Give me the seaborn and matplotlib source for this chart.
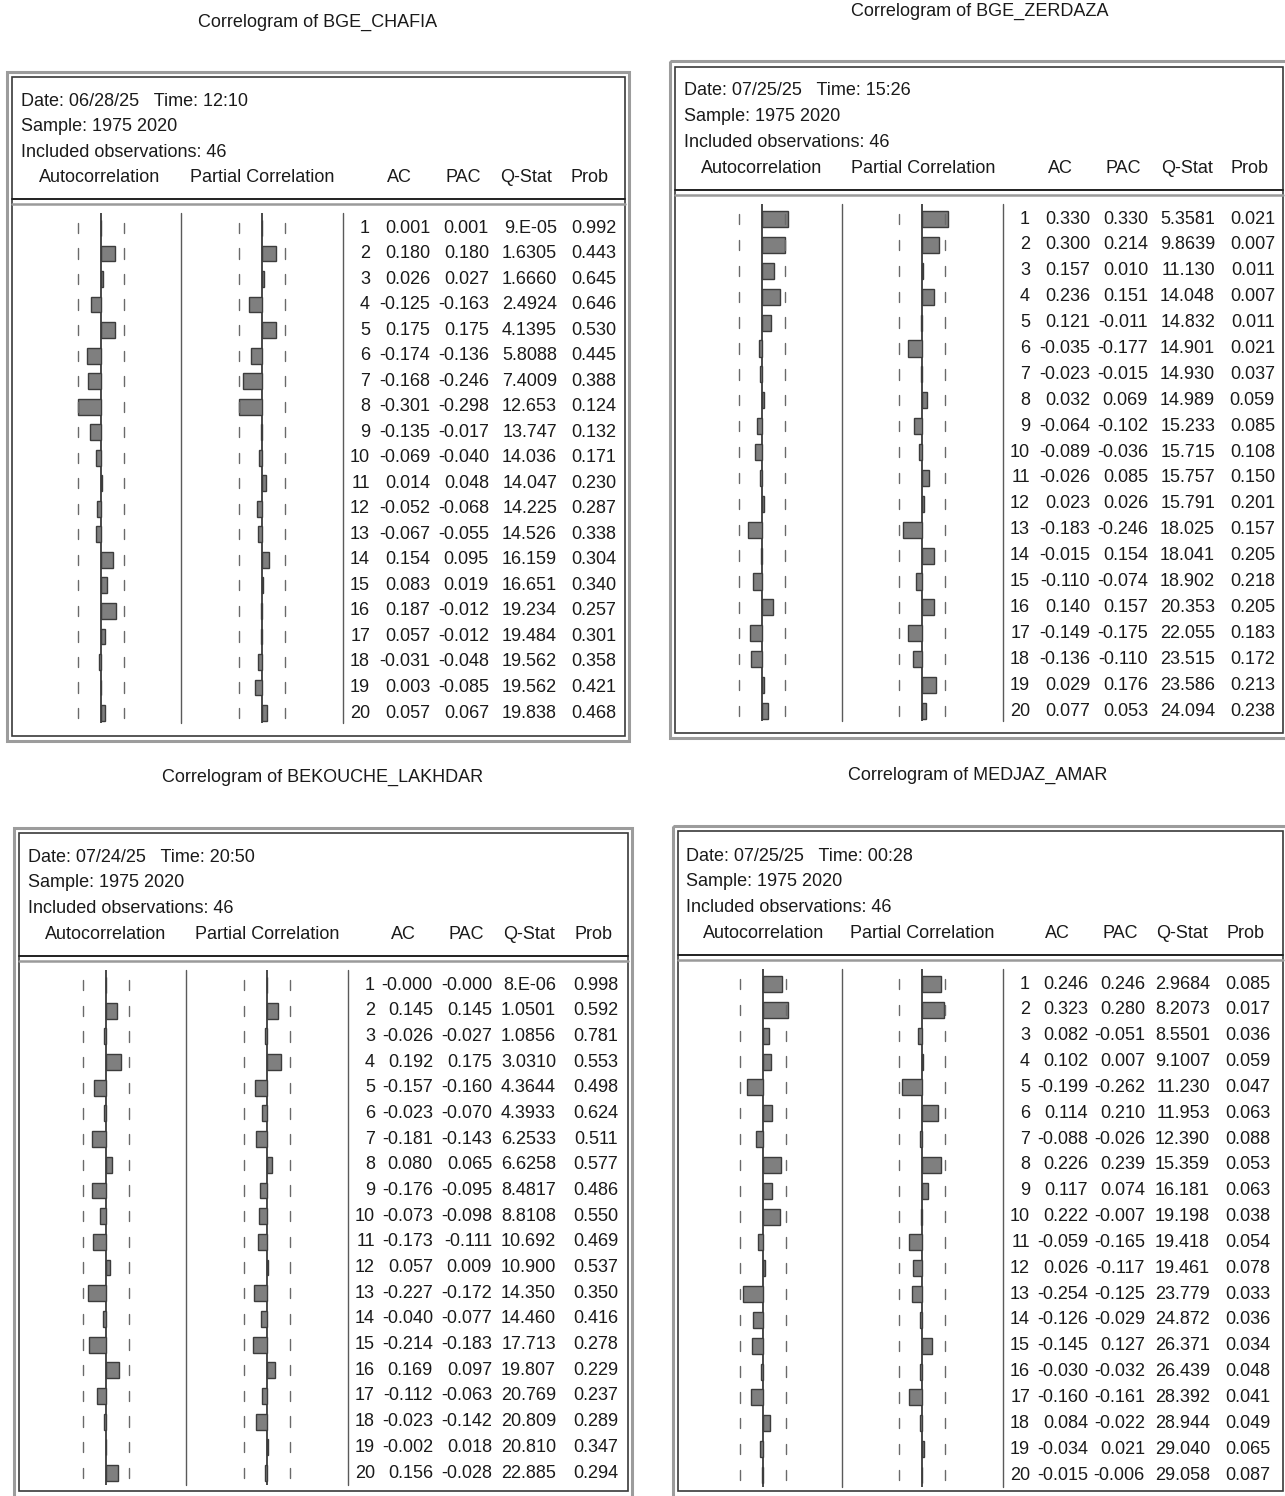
import matplotlib
matplotlib.use("Agg")
import matplotlib.pyplot as plt
from matplotlib.patches import Rectangle
import numpy as np
import pandas as pd
import seaborn as sns

sns.set_theme(style="white")
plt.rcParams['font.family'] = ['Liberation Sans', 'DejaVu Sans']

# ---------------- data ----------------
lags = list(range(1, 21))

names = ["BGE_CHAFIA", "BGE_ZERDAZA", "BEKOUCHE_LAKHDAR", "MEDJAZ_AMAR"]
dates = ["Date: 06/28/25   Time: 12:10", "Date: 07/25/25   Time: 15:26",
         "Date: 07/24/25   Time: 20:50", "Date: 07/25/25   Time: 00:28"]
sample_txt = "Sample: 1975 2020"
obs_txt = "Included observations: 46"
n_obs = 46

ac_chafia = [0.001, 0.180, 0.026, -0.125, 0.175, -0.174, -0.168, -0.301, -0.135, -0.069,
             0.014, -0.052, -0.067, 0.154, 0.083, 0.187, 0.057, -0.031, 0.003, 0.057]
pac_chafia = [0.001, 0.180, 0.027, -0.163, 0.175, -0.136, -0.246, -0.298, -0.017, -0.040,
              0.048, -0.068, -0.055, 0.095, 0.019, -0.012, -0.012, -0.048, -0.085, 0.067]
q_chafia = ["9.E-05", "1.6305", "1.6660", "2.4924", "4.1395", "5.8088", "7.4009", "12.653",
            "13.747", "14.036", "14.047", "14.225", "14.526", "16.159", "16.651", "19.234",
            "19.484", "19.562", "19.562", "19.838"]
p_chafia = [0.992, 0.443, 0.645, 0.646, 0.530, 0.445, 0.388, 0.124, 0.132, 0.171,
            0.230, 0.287, 0.338, 0.304, 0.340, 0.257, 0.301, 0.358, 0.421, 0.468]

ac_zerdaza = [0.330, 0.300, 0.157, 0.236, 0.121, -0.035, -0.023, 0.032, -0.064, -0.089,
              -0.026, 0.023, -0.183, -0.015, -0.110, 0.140, -0.149, -0.136, 0.029, 0.077]
pac_zerdaza = [0.330, 0.214, 0.010, 0.151, -0.011, -0.177, -0.015, 0.069, -0.102, -0.036,
               0.085, 0.026, -0.246, 0.154, -0.074, 0.157, -0.175, -0.110, 0.176, 0.053]
q_zerdaza = ["5.3581", "9.8639", "11.130", "14.048", "14.832", "14.901", "14.930", "14.989",
             "15.233", "15.715", "15.757", "15.791", "18.025", "18.041", "18.902", "20.353",
             "22.055", "23.515", "23.586", "24.094"]
p_zerdaza = [0.021, 0.007, 0.011, 0.007, 0.011, 0.021, 0.037, 0.059, 0.085, 0.108,
             0.150, 0.201, 0.157, 0.205, 0.218, 0.205, 0.183, 0.172, 0.213, 0.238]

ac_bekouche = [-0.000, 0.145, -0.026, 0.192, -0.157, -0.023, -0.181, 0.080, -0.176, -0.073,
               -0.173, 0.057, -0.227, -0.040, -0.214, 0.169, -0.112, -0.023, -0.002, 0.156]
pac_bekouche = [-0.000, 0.145, -0.027, 0.175, -0.160, -0.070, -0.143, 0.065, -0.095, -0.098,
                -0.111, 0.009, -0.172, -0.077, -0.183, 0.097, -0.063, -0.142, 0.018, -0.028]
q_bekouche = ["8.E-06", "1.0501", "1.0856", "3.0310", "4.3644", "4.3933", "6.2533", "6.6258",
              "8.4817", "8.8108", "10.692", "10.900", "14.350", "14.460", "17.713", "19.807",
              "20.769", "20.809", "20.810", "22.885"]
p_bekouche = [0.998, 0.592, 0.781, 0.553, 0.498, 0.624, 0.511, 0.577, 0.486, 0.550,
              0.469, 0.537, 0.350, 0.416, 0.278, 0.229, 0.237, 0.289, 0.347, 0.294]

ac_medjaz = [0.246, 0.323, 0.082, 0.102, -0.199, 0.114, -0.088, 0.226, 0.117, 0.222,
             -0.059, 0.026, -0.254, -0.126, -0.145, -0.030, -0.160, 0.084, -0.034, -0.015]
pac_medjaz = [0.246, 0.280, -0.051, 0.007, -0.262, 0.210, -0.026, 0.239, 0.074, -0.007,
              -0.165, -0.117, -0.125, -0.029, 0.127, -0.032, -0.161, -0.022, 0.021, -0.006]
q_medjaz = ["2.9684", "8.2073", "8.5501", "9.1007", "11.230", "11.953", "12.390", "15.359",
            "16.181", "19.198", "19.418", "19.461", "23.779", "24.872", "26.371", "26.439",
            "28.392", "28.944", "29.040", "29.058"]
p_medjaz = [0.085, 0.017, 0.036, 0.059, 0.047, 0.063, 0.088, 0.053, 0.063, 0.038,
            0.054, 0.078, 0.033, 0.036, 0.034, 0.048, 0.041, 0.049, 0.065, 0.087]

datasets = [
    (ac_chafia, pac_chafia, q_chafia, p_chafia),
    (ac_zerdaza, pac_zerdaza, q_zerdaza, p_zerdaza),
    (ac_bekouche, pac_bekouche, q_bekouche, p_bekouche),
    (ac_medjaz, pac_medjaz, q_medjaz, p_medjaz),
]

# ---------------- layout (pixels) ----------------
W, H = 1285, 1496
layouts = [
    dict(title=(318, 22), outer=(7, 72, 629, 741), inner=(12, 77, 625, 736), tx=21,
         hy=(101, 126, 152, 177), hc=(100, 262, 399, 463, 526, 590), dl=(199, 204),
         y1=228, y20=713, z=(101, 262), sep=(181, 343), sr=(213, 723),
         cols=(370, 430, 489, 557, 616)),
    dict(title=(980, 11), outer=(670, 61, 1295, 738), inner=(675, 67, 1283, 733), tx=684,
         hy=(90, 116, 142, 168), hc=(762, 923, 1060, 1123, 1187, 1250), dl=(190, 195),
         y1=219, y20=711, z=(762, 922), sep=(842, 1003), sr=(204, 721),
         cols=(1030, 1090, 1148, 1215, 1275)),
    dict(title=(323, 777), outer=(14, 828, 632, 1497), inner=(19, 833, 628, 1491), tx=28,
         hy=(857, 882, 908, 934), hc=(106, 267, 403, 466, 529, 593), dl=(956, 961),
         y1=985, y20=1473, z=(106, 267), sep=(186, 348), sr=(970, 1485),
         cols=(375, 433, 492, 556, 618)),
    dict(title=(978, 775), outer=(673, 826, 1295, 1497), inner=(678, 831, 1283, 1491), tx=686,
         hy=(856, 881, 907, 933), hc=(764, 922, 1057, 1120, 1182, 1245), dl=(955, 960),
         y1=984, y20=1475, z=(763, 922), sep=(842, 1003), sr=(969, 1487),
         cols=(1030, 1088, 1145, 1210, 1270)),
]

bound = 2 / np.sqrt(n_obs)
px_per_unit = 23 / bound
half_w = 70  # px half-width of bar axes

FS = 13
TXT = "#1a1a1a"

fig = plt.figure(figsize=(W / 100, H / 100), dpi=100)
bg = fig.add_axes([0, 0, 1, 1])
bg.set_xlim(0, W)
bg.set_ylim(H, 0)
bg.axis("off")

for k, (name, data, L) in enumerate(zip(names, datasets, layouts)):
    ac, pac, qs, pr = data
    bg.text(L["title"][0], L["title"][1], f"Correlogram of {name}", ha="center", va="center",
            fontsize=FS, color=TXT)
    x0, y0, x1, y1b = L["outer"]
    bg.add_patch(Rectangle((x0, y0), x1 - x0, y1b - y0, fill=False, ec="#9c9c9c", lw=2.2))
    x0, y0, x1, y1b = L["inner"]
    bg.add_patch(Rectangle((x0, y0), x1 - x0, y1b - y0, fill=False, ec="#3a3a3a", lw=1.2))
    bg.plot([x0, x1], [L["dl"][0]] * 2, color="#202020", lw=1.4)
    bg.plot([x0, x1], [L["dl"][1]] * 2, color="#9a9a9a", lw=1.8)
    hy = L["hy"]
    bg.text(L["tx"], hy[0], dates[k], ha="left", va="center", fontsize=FS, color=TXT)
    bg.text(L["tx"], hy[1], sample_txt, ha="left", va="center", fontsize=FS, color=TXT)
    bg.text(L["tx"], hy[2], obs_txt, ha="left", va="center", fontsize=FS, color=TXT)
    for lab, cx in zip(["Autocorrelation", "Partial Correlation", "AC", "PAC", "Q-Stat", "Prob"], L["hc"]):
        bg.text(cx, hy[3], lab, ha="center", va="center", fontsize=FS, color=TXT)
    for sx in L["sep"]:
        bg.plot([sx, sx], list(L["sr"]), color="#5a5a5a", lw=1.0)
    s = (L["y20"] - L["y1"]) / 19
    for i, lag in enumerate(lags):
        yy = L["y1"] + i * s
        vals = [str(lag), f"{ac[i]:.3f}", f"{pac[i]:.3f}", qs[i], f"{pr[i]:.3f}"]
        for v, cx in zip(vals, L["cols"]):
            bg.text(cx, yy, v, ha="right", va="center", fontsize=FS, color=TXT)
    ytop, ybot = L["sr"]
    for vals, zx in zip([ac, pac], L["z"]):
        ax = fig.add_axes([(zx - half_w) / W, 1 - ybot / H, 2 * half_w / W, (ybot - ytop) / H])
        df = pd.DataFrame({"lag": [str(l) for l in lags], "val": vals})
        sns.barplot(data=df, x="val", y="lag", orient="h", order=[str(l) for l in lags],
                    color="#7f7f7f", saturation=1, edgecolor="#3c3c3c", linewidth=1.0,
                    width=0.62, ax=ax)
        ax.axvline(0, color="#2a2a2a", lw=1.2, zorder=0)
        for i in range(len(lags)):
            ax.plot([-bound, -bound], [i - 0.2, i + 0.2], color="#6a6a6a", lw=1.0)
            ax.plot([bound, bound], [i - 0.2, i + 0.2], color="#6a6a6a", lw=1.0)
        ax.set_xlim(-half_w / px_per_unit, half_w / px_per_unit)
        ax.set_ylim((ybot - L["y1"]) / s, (ytop - L["y1"]) / s)
        ax.axis("off")

fig.savefig("out.png", dpi=100)
